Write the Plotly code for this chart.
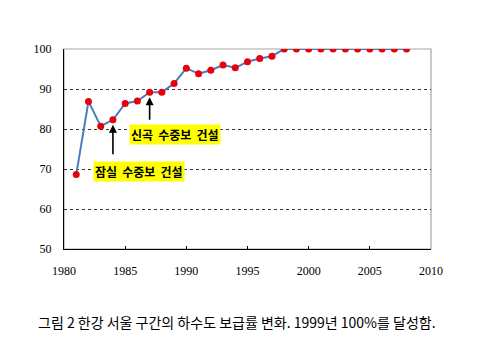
import plotly.graph_objects as go

years = list(range(1981, 2009))
rates = [68.6, 86.9, 80.7, 82.3, 86.4, 87.0, 89.2, 89.2, 91.4, 95.2,
         93.8, 94.7, 96.0, 95.3, 96.8, 97.6, 98.2,
         100, 100, 100, 100, 100, 100, 100, 100, 100, 100, 100]
x_ticks = [1980, 1985, 1990, 1995, 2000, 2005, 2010]
y_ticks = [50, 60, 70, 80, 90, 100]
events = [("신곡 수중보 건설", 1987, 1989.07, 78.75),
          ("잠실 수중보 건설", 1984, 1986.13, 69.3)]
caption = "그림 2 한강 서울 구간의 하수도 보급률 변화. 1999년 100%를 달성함."

W, H = 487, 352
L, R, T, B = 64, 56, 49, 103
pw, ph = W - L - R, H - T - B

fig = go.Figure()
fig.add_trace(go.Scatter(
    x=years, y=rates, mode="lines+markers",
    line=dict(color="#4A7EBB", width=2),
    marker=dict(color="#E8000B", size=7),
    hoverinfo="skip", showlegend=False))

annotations = []
for label, yr, lx, ly in events:
    yv = rates[years.index(yr)]
    annotations.append(dict(
        x=yr, y=yv, xref="x", yref="y", text="", showarrow=True,
        ax=0, ay=29 if yr == 1987 else 36, axref="pixel", ayref="pixel",
        arrowhead=2, arrowsize=1, arrowwidth=1.6, arrowcolor="black",
        standoff=5))
    annotations.append(dict(
        x=lx, y=ly, xref="x", yref="y", text=label.replace(" ", "\u2009 "),
        showarrow=False,
        font=dict(family="Noto Sans CJK KR", size=12, color="black", weight="bold"),
        bgcolor="#FFFF00", borderpad=1, xanchor="center", yanchor="middle"))

annotations.append(dict(
    x=(237 - L) / pw, y=(H - B - 322) / ph, xref="paper", yref="paper",
    text=caption, showarrow=False,
    font=dict(family="Noto Sans CJK KR", size=14, color="black"),
    xanchor="center", yanchor="middle"))

fig.update_layout(annotations=annotations)

fig.add_shape(type="rect", xref="paper", yref="paper", x0=0, y0=0, x1=1, y1=1,
              line=dict(color="#A6A6A6", width=1.2), layer="below")

fig.update_layout(
    width=W, height=H,
    margin=dict(l=L, r=R, t=T, b=B, pad=0),
    paper_bgcolor="white", plot_bgcolor="white",
    font=dict(family="Liberation Serif", size=12, color="black"),
    xaxis=dict(range=[1980, 2010], tickvals=x_ticks, ticks="inside", ticklen=3,
               tickcolor="black", showline=True, linecolor="black", linewidth=1.2,
               showgrid=False, zeroline=False, tickfont=dict(size=12),
               ticklabelstandoff=10),
    yaxis=dict(range=[50, 100], tickvals=y_ticks, ticks="", showline=True,
               linecolor="black", linewidth=1.2, showgrid=True,
               gridcolor="#333333", griddash="dot", gridwidth=1,
               zeroline=False, tickfont=dict(size=12), ticklabelstandoff=9),
)

fig.write_html("out.html")
